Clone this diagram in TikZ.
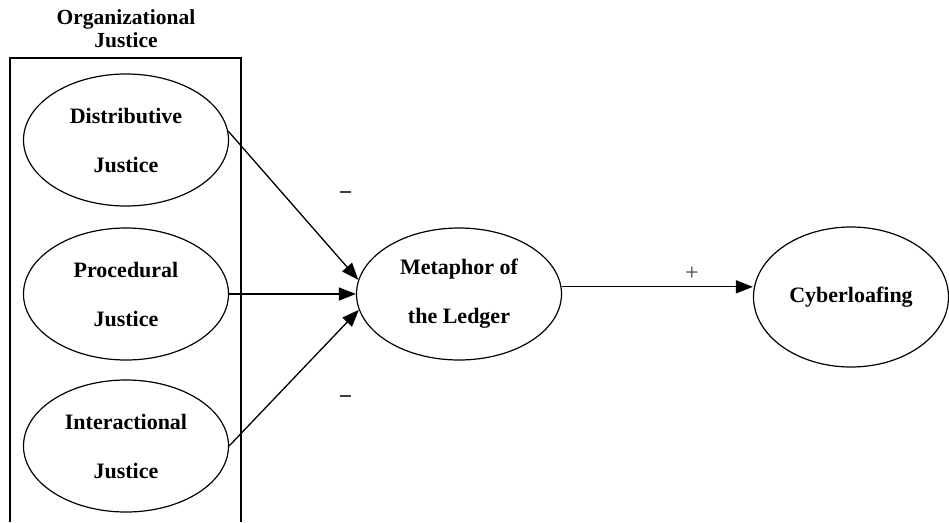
\documentclass[tikz,border=0pt]{standalone}
\usepackage{fontspec}
\setmainfont{Liberation Serif}
\usetikzlibrary{shapes.geometric,arrows.meta}

\tikzset{
  construct/.style={draw, ellipse, line width=1.2pt, inner sep=0pt,
    minimum width=205pt, minimum height=132pt, align=center,
    font=\fontsize{22pt}{49pt}\selectfont\bfseries},
  link/.style={line width=1.3pt, -{Triangle[length=17pt,width=13pt]}},
  sign/.style={font=\fontsize{24pt}{26pt}\selectfont, text=black!75, inner sep=0pt},
  frame/.style={line width=1.2pt},
  heading/.style={align=center, inner sep=0pt,
    font=\fontsize{21.5pt}{23pt}\selectfont\bfseries}
}

\begin{document}
\begin{tikzpicture}[x=1pt, y=-1pt]
  \useasboundingbox (0,0) rectangle (949,522);

  % group frame, open at the bottom
  \draw[frame] (10,522) -- (10,58) -- (241,58) -- (241,522);
  \node[heading] (title) at (126,29) {Organizational\\Justice};

  % constructs
  \node[construct] (dist)  at (126,140) {Distributive\\Justice};
  \node[construct] (proc)  at (126,294) {Procedural\\Justice};
  \node[construct] (inter) at (126,446) {Interactional\\Justice};
  \node[construct] (meta)  at (459,294) {Metaphor of\\the Ledger};
  \node[construct, minimum width=195pt, minimum height=140pt] (cyber) at (851,297) {Cyberloafing};

  % paths
  \draw[link] (dist.5) -- (meta.172);
  \draw[link] (proc.east) -- (meta.west);
  \draw[link] (inter.east) -- (meta.189);
  \draw[link] (meta.4) -- (meta.4 -| cyber.west);

  % signs
  \node[sign] (s1) at (345,192) {\rule{11pt}{1.8pt}};
  \node[sign] (s2) at (345,396) {\rule{11pt}{1.8pt}};
  \node[sign] (s3) at (692,274) {+};
\end{tikzpicture}
\end{document}
